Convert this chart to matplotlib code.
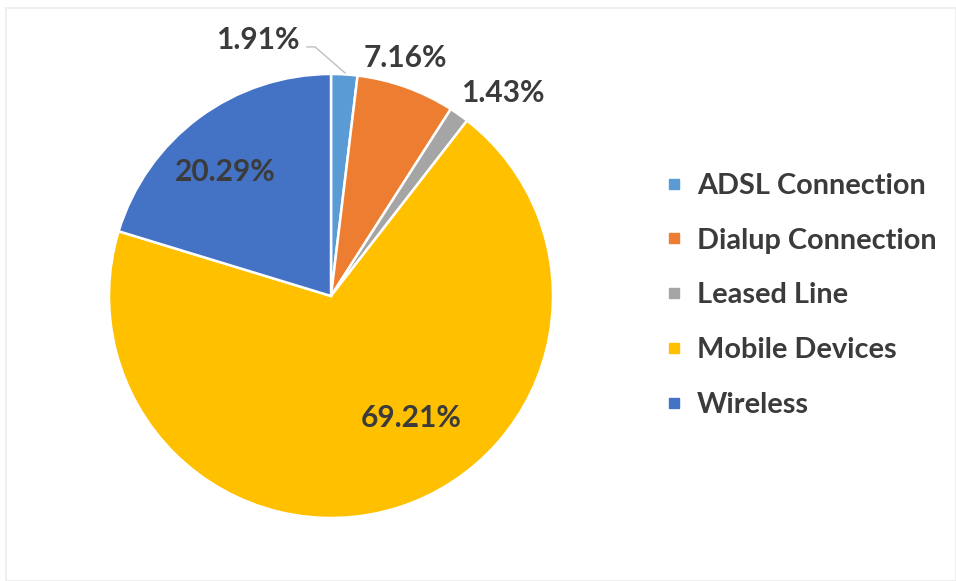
import matplotlib
matplotlib.use("Agg")
import matplotlib.pyplot as plt
from matplotlib.lines import Line2D
from matplotlib.patches import Rectangle

categories = ["ADSL Connection", "Dialup Connection", "Leased Line", "Mobile Devices", "Wireless"]
values = [1.91, 7.16, 1.43, 69.21, 20.29]
colors = ["#5B9BD5", "#ED7D31", "#A5A5A5", "#FFC000", "#4472C4"]
label_texts = ["1.91%", "7.16%", "1.43%", "69.21%", "20.29%"]
# label positions in pie data coords (radius = 1)
label_pos = [(-0.33, 1.153), (0.333, 1.072), (0.775, 0.914), (0.36, -0.55), (-0.477, 0.559)]

W, H = 956, 581
fig = plt.figure(figsize=(W / 100, H / 100), dpi=100)
fig.patch.set_facecolor("white")

# faint frame
fig.patches.append(Rectangle((6 / W, 0), (W - 6) / W, (H - 8) / H, transform=fig.transFigure,
                             fill=False, edgecolor="#ececec", linewidth=1.2))

cx, cy, r = 331, 296, 222
ax = fig.add_axes([(cx - r) / W, (H - cy - r) / H, 2 * r / W, 2 * r / H])
ax.axis("off")

wedges, _ = ax.pie(values, colors=colors, startangle=90, counterclock=False, radius=1,
                   wedgeprops=dict(edgecolor="white", linewidth=1.8))
ax.set_xlim(-1, 1)
ax.set_ylim(-1, 1)
ax.set_aspect("equal")

txtc = "#3b3b3b"
font = dict(family=["Lato", "DejaVu Sans"], fontweight="bold", color=txtc, fontsize=21.5)
for t, (x, y) in zip(label_texts, label_pos):
    ax.text(x, y, t, ha="center", va="center", clip_on=False, **font)

# leader line for the small ADSL slice
ax.plot([0.063, -0.072, -0.108], [1.005, 1.122, 1.122], color="#BFBFBF", linewidth=1.0,
        clip_on=False)

handles = [Line2D([0], [0], marker="s", linestyle="none", markersize=7.5,
                  markerfacecolor=c, markeredgecolor=c) for c in colors]
leg = fig.legend(handles, categories, loc="center left", bbox_to_anchor=(0.679, 1 - 295.5 / H),
                 frameon=False, handlelength=0.7, handletextpad=0.45, labelspacing=1.0,
                 borderpad=0, prop=dict(family=["Lato", "DejaVu Sans"], weight="bold", size=20.8))
for t in leg.get_texts():
    t.set_color(txtc)

fig.savefig("out.png", dpi=100, facecolor="white")
